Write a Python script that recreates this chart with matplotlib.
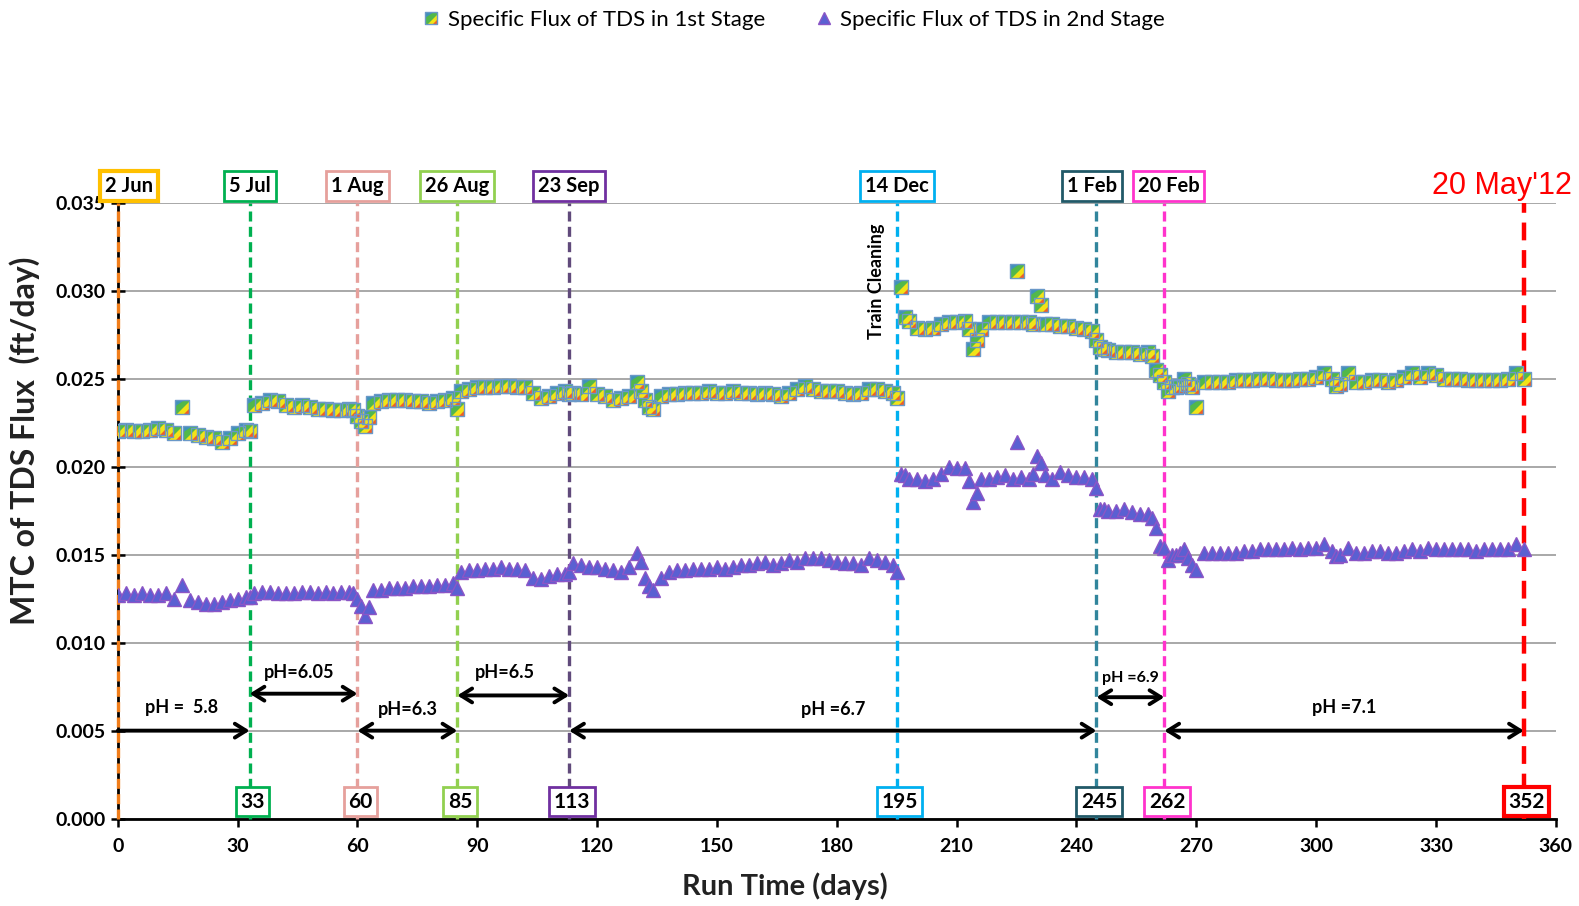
import matplotlib
matplotlib.use("Agg")
import matplotlib.pyplot as plt
from matplotlib.path import Path
from matplotlib.legend_handler import HandlerTuple

plt.rcParams['font.family'] = ['Lato', 'DejaVu Sans']

# ---------------------------------------------------------------- data
run_days = [
    0, 2, 4, 6, 8, 10, 12, 14, 16, 18, 20, 22, 24, 26, 28, 30, 32, 33,
    34, 36, 38, 40, 42, 44, 46, 48, 50, 52, 54, 56, 58,
    59, 60, 61, 62, 63, 64,
    66, 68, 70, 72, 74, 76, 78, 80, 82, 84, 85,
    86, 88, 90, 92, 94, 96, 98, 100, 102, 104, 106, 108, 110, 112, 113,
    114, 116, 118, 120, 122, 124, 126, 128, 130, 131, 132, 133, 134, 136,
    138, 140, 142, 144, 146, 148, 150, 152, 154, 156, 158, 160, 162, 164,
    166, 168, 170, 172, 174, 176, 178, 180, 182, 184, 186, 188, 190, 192,
    194, 195,
    196, 197, 198, 200, 202, 204, 206, 208, 210, 212, 213, 214, 215, 216,
    218, 220, 222, 224, 225, 226, 228, 229, 230, 231, 232, 234, 236, 238,
    240, 242, 244, 245, 246, 247, 248, 250, 252, 254, 256, 258, 259, 260,
    261, 262, 263, 264, 265, 266, 267, 268, 269, 270,
    272, 274, 276, 278, 280, 282, 284, 286, 288, 290, 292, 294, 296, 298,
    300, 302, 304, 305, 306, 308, 310, 312, 314, 316, 318, 320, 322, 324,
    326, 328, 330, 332, 334, 336, 338, 340, 342, 344, 346, 348, 350, 352,
]

flux_stage1 = [
    .0220, .0221, .0220, .0220, .0221, .0222, .0221, .0219, .0234, .0219,
    .0218, .0217, .0216, .0214, .0216, .0219, .0221, .0220,
    .0235, .0236, .0238, .0237, .0235, .0234, .0235, .0234, .0233, .0233,
    .0232, .0232, .0233,
    .0232, .0229, .0226, .0223, .0228, .0236,
    .0237, .0238, .0238, .0238, .0237, .0237, .0236, .0237, .0238, .0239,
    .0233,
    .0243, .0244, .0245, .0245, .0245, .0246, .0246, .0245, .0245, .0242,
    .0239, .0240, .0242, .0243, .0241,
    .0242, .0241, .0246, .0241, .0240, .0238, .0239, .0240, .0248, .0243,
    .0238, .0234, .0233, .0240,
    .0241, .0241, .0242, .0242, .0242, .0243, .0242, .0242, .0243, .0242,
    .0242, .0241, .0242, .0241,
    .0240, .0242, .0244, .0246, .0244, .0243, .0243, .0243, .0242, .0241,
    .0242, .0244, .0244, .0243,
    .0242, .0239,
    .0302, .0285, .0283, .0279, .0278, .0279, .0281, .0282, .0282, .0283,
    .0278, .0267, .0272, .0278,
    .0282, .0282, .0282, .0282, .0311, .0282, .0282, .0281, .0297, .0292,
    .0281, .0281, .0280, .0280,
    .0279, .0278, .0277, .0272, .0268, .0267, .0266, .0265, .0265, .0265,
    .0264, .0265, .0263, .0255,
    .0252, .0248, .0243, .0245, .0245, .0246, .0250, .0247, .0245, .0234,
    .0248, .0248, .0248, .0248, .0249, .0249, .0249, .0250, .0250, .0249,
    .0249, .0249, .0250, .0250,
    .0251, .0253, .0250, .0246, .0247, .0253, .0248, .0248, .0249, .0249,
    .0248, .0249, .0251, .0253,
    .0251, .0253, .0252, .0250, .0250, .0250, .0249, .0249, .0249, .0249,
    .0249, .0250, .0253, .0250,
]

flux_stage2 = [
    .0127, .0128, .0127, .0128, .0127, .0127, .0128, .0125, .0133, .0124,
    .0123, .0122, .0122, .0123, .0124, .0125, .0126, .0126,
    .0128, .0129, .0129, .0128, .0128, .0128, .0129, .0129, .0128, .0129,
    .0128, .0129, .0129,
    .0128, .0125, .0121, .0115, .0120, .0130,
    .0130, .0131, .0131, .0131, .0132, .0132, .0132, .0133, .0133, .0134,
    .0131,
    .0140, .0141, .0141, .0142, .0142, .0143, .0142, .0142, .0141, .0137,
    .0136, .0138, .0139, .0139, .0140,
    .0145, .0144, .0143, .0143, .0142, .0141, .0140, .0143, .0151, .0146,
    .0137, .0132, .0130, .0137,
    .0140, .0141, .0141, .0142, .0142, .0142, .0143, .0142, .0143, .0144,
    .0144, .0145, .0146, .0144,
    .0145, .0147, .0146, .0148, .0148, .0148, .0147, .0146, .0145, .0145,
    .0144, .0148, .0147, .0146,
    .0144, .0140,
    .0196, .0195, .0193, .0193, .0192, .0193, .0196, .0200, .0199, .0199,
    .0192, .0180, .0185, .0193,
    .0193, .0194, .0195, .0193, .0214, .0194, .0193, .0196, .0206, .0202,
    .0195, .0193, .0197, .0195,
    .0194, .0194, .0193, .0188, .0176, .0176, .0175, .0175, .0176, .0174,
    .0173, .0173, .0171, .0165,
    .0155, .0154, .0147, .0150, .0150, .0151, .0153, .0148, .0144, .0141,
    .0151, .0151, .0151, .0151, .0151, .0152, .0152, .0153, .0153, .0153,
    .0153, .0154, .0153, .0154,
    .0154, .0156, .0152, .0149, .0150, .0154, .0151, .0151, .0152, .0152,
    .0151, .0151, .0152, .0153,
    .0152, .0154, .0153, .0153, .0153, .0153, .0153, .0152, .0153, .0153,
    .0153, .0153, .0156, .0153,
]

event_days = [0, 33, 60, 85, 113, 195, 245, 262, 352]
event_dates = ['2 Jun', '5 Jul', '1 Aug', '26 Aug', '23 Sep', '14 Dec',
               '1 Feb', '20 Feb', "20 May'12"]
event_line_colors = ['#f07d1a', '#00b050', '#e6a09c', '#92d050', '#604a7b',
                     '#00b0f0', '#31859c', '#ff33cc', '#ff0000']
event_box_colors = ['#ffc000', '#00b050', '#e6a09c', '#92d050', '#7030a0',
                    '#00b0f0', '#215968', '#ff33cc', '#ff0000']

ph_labels = ['pH =  5.8', 'pH=6.05', 'pH=6.3', 'pH=6.5', 'pH =6.7',
             'pH =6.9', 'pH =7.1']
ph_start = [0, 33, 60, 85, 113, 245, 262]
ph_end = [33, 60, 85, 113, 245, 262, 352]

x_ticks = list(range(0, 361, 30))
y_ticks = [0.000, 0.005, 0.010, 0.015, 0.020, 0.025, 0.030, 0.035]

# ---------------------------------------------------------------- markers
def _poly(points):
    return Path(points + [points[0]], closed=True)

sq_base = _poly([(-0.5, -0.5), (0.5, -0.5), (0.5, 0.5), (-0.5, 0.5)])
sq_green = _poly([(-0.5, -0.5), (0.5, -0.5), (0.5, 0.5), (0.1, 0.5), (-0.5, 0.1)])
sq_yellow = _poly([(-0.4, -0.5), (0.5, -0.5), (0.5, 0.4)])
sq_orange = _poly([(0.05, -0.5), (0.5, -0.5), (0.5, -0.05)])

fig = plt.figure(figsize=(15.79, 9.06), dpi=100)
ax = fig.add_axes([0.0746, 0.0964, 0.9107, 0.680])

ms_sq = 10.0
stage1_layers = []
for path, fc in [(sq_base, '#3f93b8'), (sq_green, '#52b84a'),
                 (sq_yellow, '#f2e318'), (sq_orange, '#ef5f26')]:
    ln, = ax.plot(run_days, flux_stage1, linestyle='none', marker=path,
                  ms=ms_sq, mfc=fc, mec='none', zorder=5)
    stage1_layers.append(ln)
edge, = ax.plot(run_days, flux_stage1, linestyle='none', marker=sq_base,
                ms=ms_sq, mfc='none', mec='#6a98c8', mew=1.0, zorder=5)
stage1_layers.append(edge)

stage2, = ax.plot(run_days, flux_stage2, linestyle='none', marker='^',
                  ms=10, mfc='#5a60d2', mec='#8b55c6', mew=1.0, zorder=5)

# ---------------------------------------------------------------- axes
ax.set_xlim(0, 360)
ax.set_ylim(0, 0.035)
ax.set_xticks(x_ticks)
ax.set_yticks(y_ticks)
ax.set_yticklabels([f'{v:.3f}' for v in y_ticks])
ax.yaxis.grid(True, color='#9a9a9a', lw=1.2, zorder=0)
ax.set_axisbelow(True)
for s in ['top', 'right']:
    ax.spines[s].set_visible(False)
for s in ['left', 'bottom']:
    ax.spines[s].set_linewidth(2)
ax.tick_params(axis='x', direction='out', length=6, width=1.8, labelsize=14,
               pad=8)
ax.tick_params(axis='y', direction='inout', length=10, width=1.8,
               labelsize=14, pad=4)
for lab in ax.get_xticklabels() + ax.get_yticklabels():
    lab.set_fontweight('bold')
ax.set_xlabel('Run Time (days)', fontsize=21, fontweight='bold',
              color='#222222')
ax.xaxis.set_label_coords(0.4636, -0.088)
ax.set_ylabel('MTC of TDS Flux  (ft/day)', fontsize=23, fontweight='bold',
              color='#222222')
ax.yaxis.set_label_coords(-0.054, 0.613)

# ---------------------------------------------------------------- event lines
top_dx = [8, 0, 0, 0, 0, 0, -3, 3]
for i, (d, lc) in enumerate(zip(event_days, event_line_colors)):
    if i == len(event_days) - 1:
        ax.axvline(d, color=lc, lw=3.2, dashes=(4, 2.2), zorder=3,
                   clip_on=False)
    else:
        ax.axvline(d, color=lc, lw=2.4, dashes=(3, 1.6), zorder=3,
                   clip_on=False)

for i, (d, lab, bc) in enumerate(zip(event_days[:-1], event_dates[:-1],
                                     event_box_colors[:-1])):
    ax.annotate(lab, xy=(d, 0.035), xytext=(top_dx[i], 4.5),
                textcoords='offset points', ha='center', va='bottom',
                fontsize=14.5, fontweight='bold', color='black', zorder=6,
                bbox=dict(boxstyle='square,pad=0.25', fc='white', ec=bc,
                          lw=3.0 if i == 0 else 2.0))
ax.annotate(event_dates[-1], xy=(event_days[-1], 0.035), xytext=(-16, 1),
            textcoords='offset points', ha='center', va='bottom',
            fontsize=22, color='#ff0000',
            family=['Liberation Sans Narrow', 'Liberation Sans'])

for d, bc in zip(event_days[1:], event_box_colors[1:]):
    ax.annotate(str(d), xy=(d, 0), xytext=(2, 5), textcoords='offset points',
                ha='center', va='bottom', fontsize=15, fontweight='bold',
                color='black', zorder=6,
                bbox=dict(boxstyle='square,pad=0.22', fc='white', ec=bc,
                          lw=3.0 if d == event_days[-1] else 2.0))

# ---------------------------------------------------------------- pH arrows
arrow_y = [0.005, 0.0071, 0.005, 0.0070, 0.005, 0.0069, 0.005]
text_dy = [0.0013, 0.0012, 0.0012, 0.0013, 0.0012, 0.0011, 0.0013]
text_dx = [-0.5, -1, 0, -2, 0, 0, 0]
ph_size = [13, 13, 13, 13, 13, 11.5, 13]
for i, (x0, x1, lab) in enumerate(zip(ph_start, ph_end, ph_labels)):
    style = '->' if i == 0 else '<->'
    ax.annotate('', xy=(x1, arrow_y[i]), xytext=(x0, arrow_y[i]),
                arrowprops=dict(arrowstyle=style + ',head_length=0.8,head_width=0.5',
                                lw=2.8, color='black', shrinkA=0, shrinkB=0),
                zorder=6)
    ax.text((x0 + x1) / 2 + text_dx[i], arrow_y[i] + text_dy[i], lab,
            ha='center', va='center', fontsize=ph_size[i], fontweight='bold',
            color='black', zorder=6)

ax.text(190.0, 0.0305, 'Train Cleaning', rotation=90, ha='center',
        va='center', fontsize=13, fontweight='bold', color='black')

# ---------------------------------------------------------------- legend
fig.legend([tuple(stage1_layers), stage2],
           ['Specific Flux of TDS in 1st Stage',
            'Specific Flux of TDS in 2nd Stage'],
           handler_map={tuple: HandlerTuple(ndivide=1, pad=0)},
           loc='center', bbox_to_anchor=(0.503, 0.978), ncol=2, frameon=False,
           fontsize=16, markerscale=0.8, handlelength=0.7,
           handletextpad=0.4, columnspacing=2.3)

fig.savefig('out.png', dpi=100)
